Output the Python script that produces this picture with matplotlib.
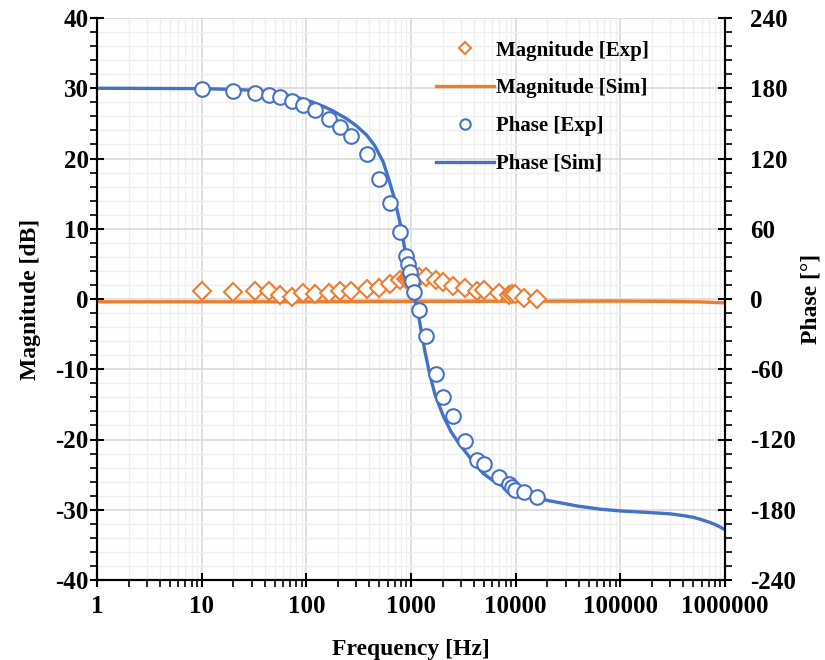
import numpy as np
import matplotlib
matplotlib.use("Agg")
import matplotlib.pyplot as plt
from matplotlib.ticker import FixedLocator, LogLocator, NullFormatter, MultipleLocator

plt.rcParams['font.family'] = ['Liberation Serif', 'DejaVu Serif']
plt.rcParams['font.weight'] = 'bold'
plt.rcParams['axes.unicode_minus'] = False

# Measured points
freq_exp = [10, 20, 32, 44, 56, 73, 93, 121, 165, 209, 267, 380, 493, 630, 785,
            896, 935, 980, 1022, 1070, 1192, 1390, 1735, 2025, 2516, 3280, 4270,
            4980, 6920, 8630, 9230, 9800, 12000, 16000]
mag_exp = [1.18, 1.04, 1.18, 1.07, 0.64, 0.28, 0.85, 0.71, 0.90, 1.20, 1.20, 1.42,
           1.52, 2.20, 2.70, 2.90, 2.95, 3.00, 3.00, 3.00, 3.10, 3.10, 2.70, 2.40,
           1.85, 1.50, 1.10, 1.30, 0.80, 0.60, 0.70, 0.70, 0.10, -0.05]
phase_exp = [179.4, 177.7, 176.0, 174.0, 172.5, 169.0, 165.7, 161.4, 153.7, 146.9,
             139.2, 123.8, 102.5, 82.0, 57.0, 36.5, 30.0, 23.0, 15.0, 6.0, -9.4,
             -31.6, -64.0, -83.7, -100.0, -121.0, -137.5, -141.0, -152.0, -158.0,
             -160.6, -163.0, -165.0, -169.0]

# Simulated response
freq_sim = [1, 10, 20, 30, 40, 56, 70, 87, 116, 150, 181, 242, 300, 377, 450, 543,
            620, 688, 750, 800, 845, 900, 950, 1000, 1092, 1200, 1360, 1500, 1700,
            2036, 2400, 2800, 3280, 4000, 4900, 6500, 8900, 12000, 20000, 40000,
            64000, 100000, 200000, 300000, 400000, 500000, 600000, 700000, 800000,
            900000, 1000000]
phase_sim = [180.0, 179.7, 179.0, 178.3, 177.3, 175.5, 173.5, 171.5, 168.0, 164.0,
             160.5, 154.0, 148.0, 140.0, 131.0, 117.0, 101.0, 87.0, 73.0, 62.0, 50.0,
             35.0, 26.0, 16.0, 0.0, -18.0, -45.0, -63.0, -82.0, -100.0, -113.0,
             -122.0, -130.0, -140.0, -149.0, -157.0, -163.0, -167.0, -172.0, -177.0,
             -179.5, -181.0, -182.5, -183.5, -185.0, -186.5, -188.5, -190.5, -192.5,
             -194.8, -197.0]
freq_mag_sim = [1, 100, 1000, 10000, 100000, 300000, 600000, 1000000]
mag_sim = [-0.40, -0.40, -0.34, -0.32, -0.30, -0.34, -0.42, -0.55]

x_ticks = [1, 10, 100, 1000, 10000, 100000, 1000000]
x_labels = ['1', '10', '100', '1000', '10000', '100000', '1000000']
mag_ticks = list(range(-40, 41, 10))
phase_ticks = list(range(-240, 241, 60))

orange = '#ED7D31'
blue = '#4472C4'

fig = plt.figure(figsize=(8.25, 6.6), dpi=100)
ax = fig.add_axes([97 / 825, 80 / 660, 628 / 825, 562 / 660])
ax2 = ax.twinx()

ax.set_xscale('log')
ax.set_xlim(1, 1e6)
ax.set_ylim(-40, 40)
ax2.set_ylim(-240, 240)

# grid and ticks
ax.xaxis.set_major_locator(FixedLocator(x_ticks))
ax.xaxis.set_minor_locator(LogLocator(base=10, subs=np.arange(2, 10), numticks=20))
ax.xaxis.set_minor_formatter(NullFormatter())
ax.set_xticklabels(x_labels)
ax.yaxis.set_major_locator(FixedLocator(mag_ticks))
ax.yaxis.set_minor_locator(MultipleLocator(2))
ax2.yaxis.set_major_locator(FixedLocator(phase_ticks))
ax2.yaxis.set_minor_locator(MultipleLocator(12))

ax.grid(which='major', color='#d9d9d9', linewidth=1.2, zorder=0)
ax.grid(which='minor', color='#efefef', linewidth=1.0, zorder=0)
ax.set_axisbelow(True)

l1, = ax.plot(freq_mag_sim, mag_sim, color=orange, linewidth=2.4, zorder=2,
              label='Magnitude [Sim]')
m1, = ax.plot(freq_exp, mag_exp, linestyle='none', marker='D', markersize=9,
              markerfacecolor='white', markeredgecolor=orange, markeredgewidth=1.5,
              zorder=3, label='Magnitude [Exp]')
l2, = ax2.plot(freq_sim, phase_sim, color=blue, linewidth=2.4, zorder=2,
               label='Phase [Sim]')
m2, = ax2.plot(freq_exp, phase_exp, linestyle='none', marker='o', markersize=10.5,
               markerfacecolor='white', markeredgecolor=blue, markeredgewidth=1.5,
               zorder=3, label='Phase [Exp]')

ax.spines['top'].set_visible(False)
ax2.spines['top'].set_visible(False)
for a in (ax, ax2):
    for s in ['left', 'right', 'bottom']:
        a.spines[s].set_color('black')
        a.spines[s].set_linewidth(1.5)

ax.tick_params(axis='x', which='major', direction='inout', length=10, width=1.5,
               labelsize=18, pad=6, colors='black')
ax.tick_params(axis='y', which='major', direction='inout', length=10, width=1.5,
               labelsize=18, pad=1, colors='black')
ax.tick_params(axis='both', which='minor', direction='out', length=5, width=1.2)
ax2.tick_params(axis='y', which='major', direction='inout', length=10, width=1.5,
                labelsize=18, pad=13)
ax2.tick_params(axis='y', which='minor', direction='out', length=5, width=1.2)
for lab in ax.get_xticklabels() + ax.get_yticklabels() + ax2.get_yticklabels():
    lab.set_fontweight('bold')

ax.set_xlabel('Frequency [Hz]', fontsize=17, fontweight='bold', labelpad=15)
ax.set_ylabel('Magnitude [dB]', fontsize=17, fontweight='bold', labelpad=10)
ax2.set_ylabel('Phase [°]', fontsize=17, fontweight='bold', labelpad=3)

small_d = plt.Line2D([], [], linestyle='none', marker='D', markersize=6,
                     markerfacecolor='white', markeredgecolor=orange,
                     markeredgewidth=1.5)
small_o = plt.Line2D([], [], linestyle='none', marker='o', markersize=7.5,
                     markerfacecolor='white', markeredgecolor=blue,
                     markeredgewidth=1.5)
leg = ax2.legend([small_d, l1, small_o, l2],
                 ['Magnitude [Exp]', 'Magnitude [Sim]', 'Phase [Exp]', 'Phase [Sim]'],
                 loc='upper left', bbox_to_anchor=(0.51, 0.993), frameon=False,
                 prop={'family': 'Liberation Serif', 'weight': 'bold', 'size': 15},
                 handlelength=2.8, handletextpad=0.1, labelspacing=0.85)

fig.savefig('out.png', dpi=100)
